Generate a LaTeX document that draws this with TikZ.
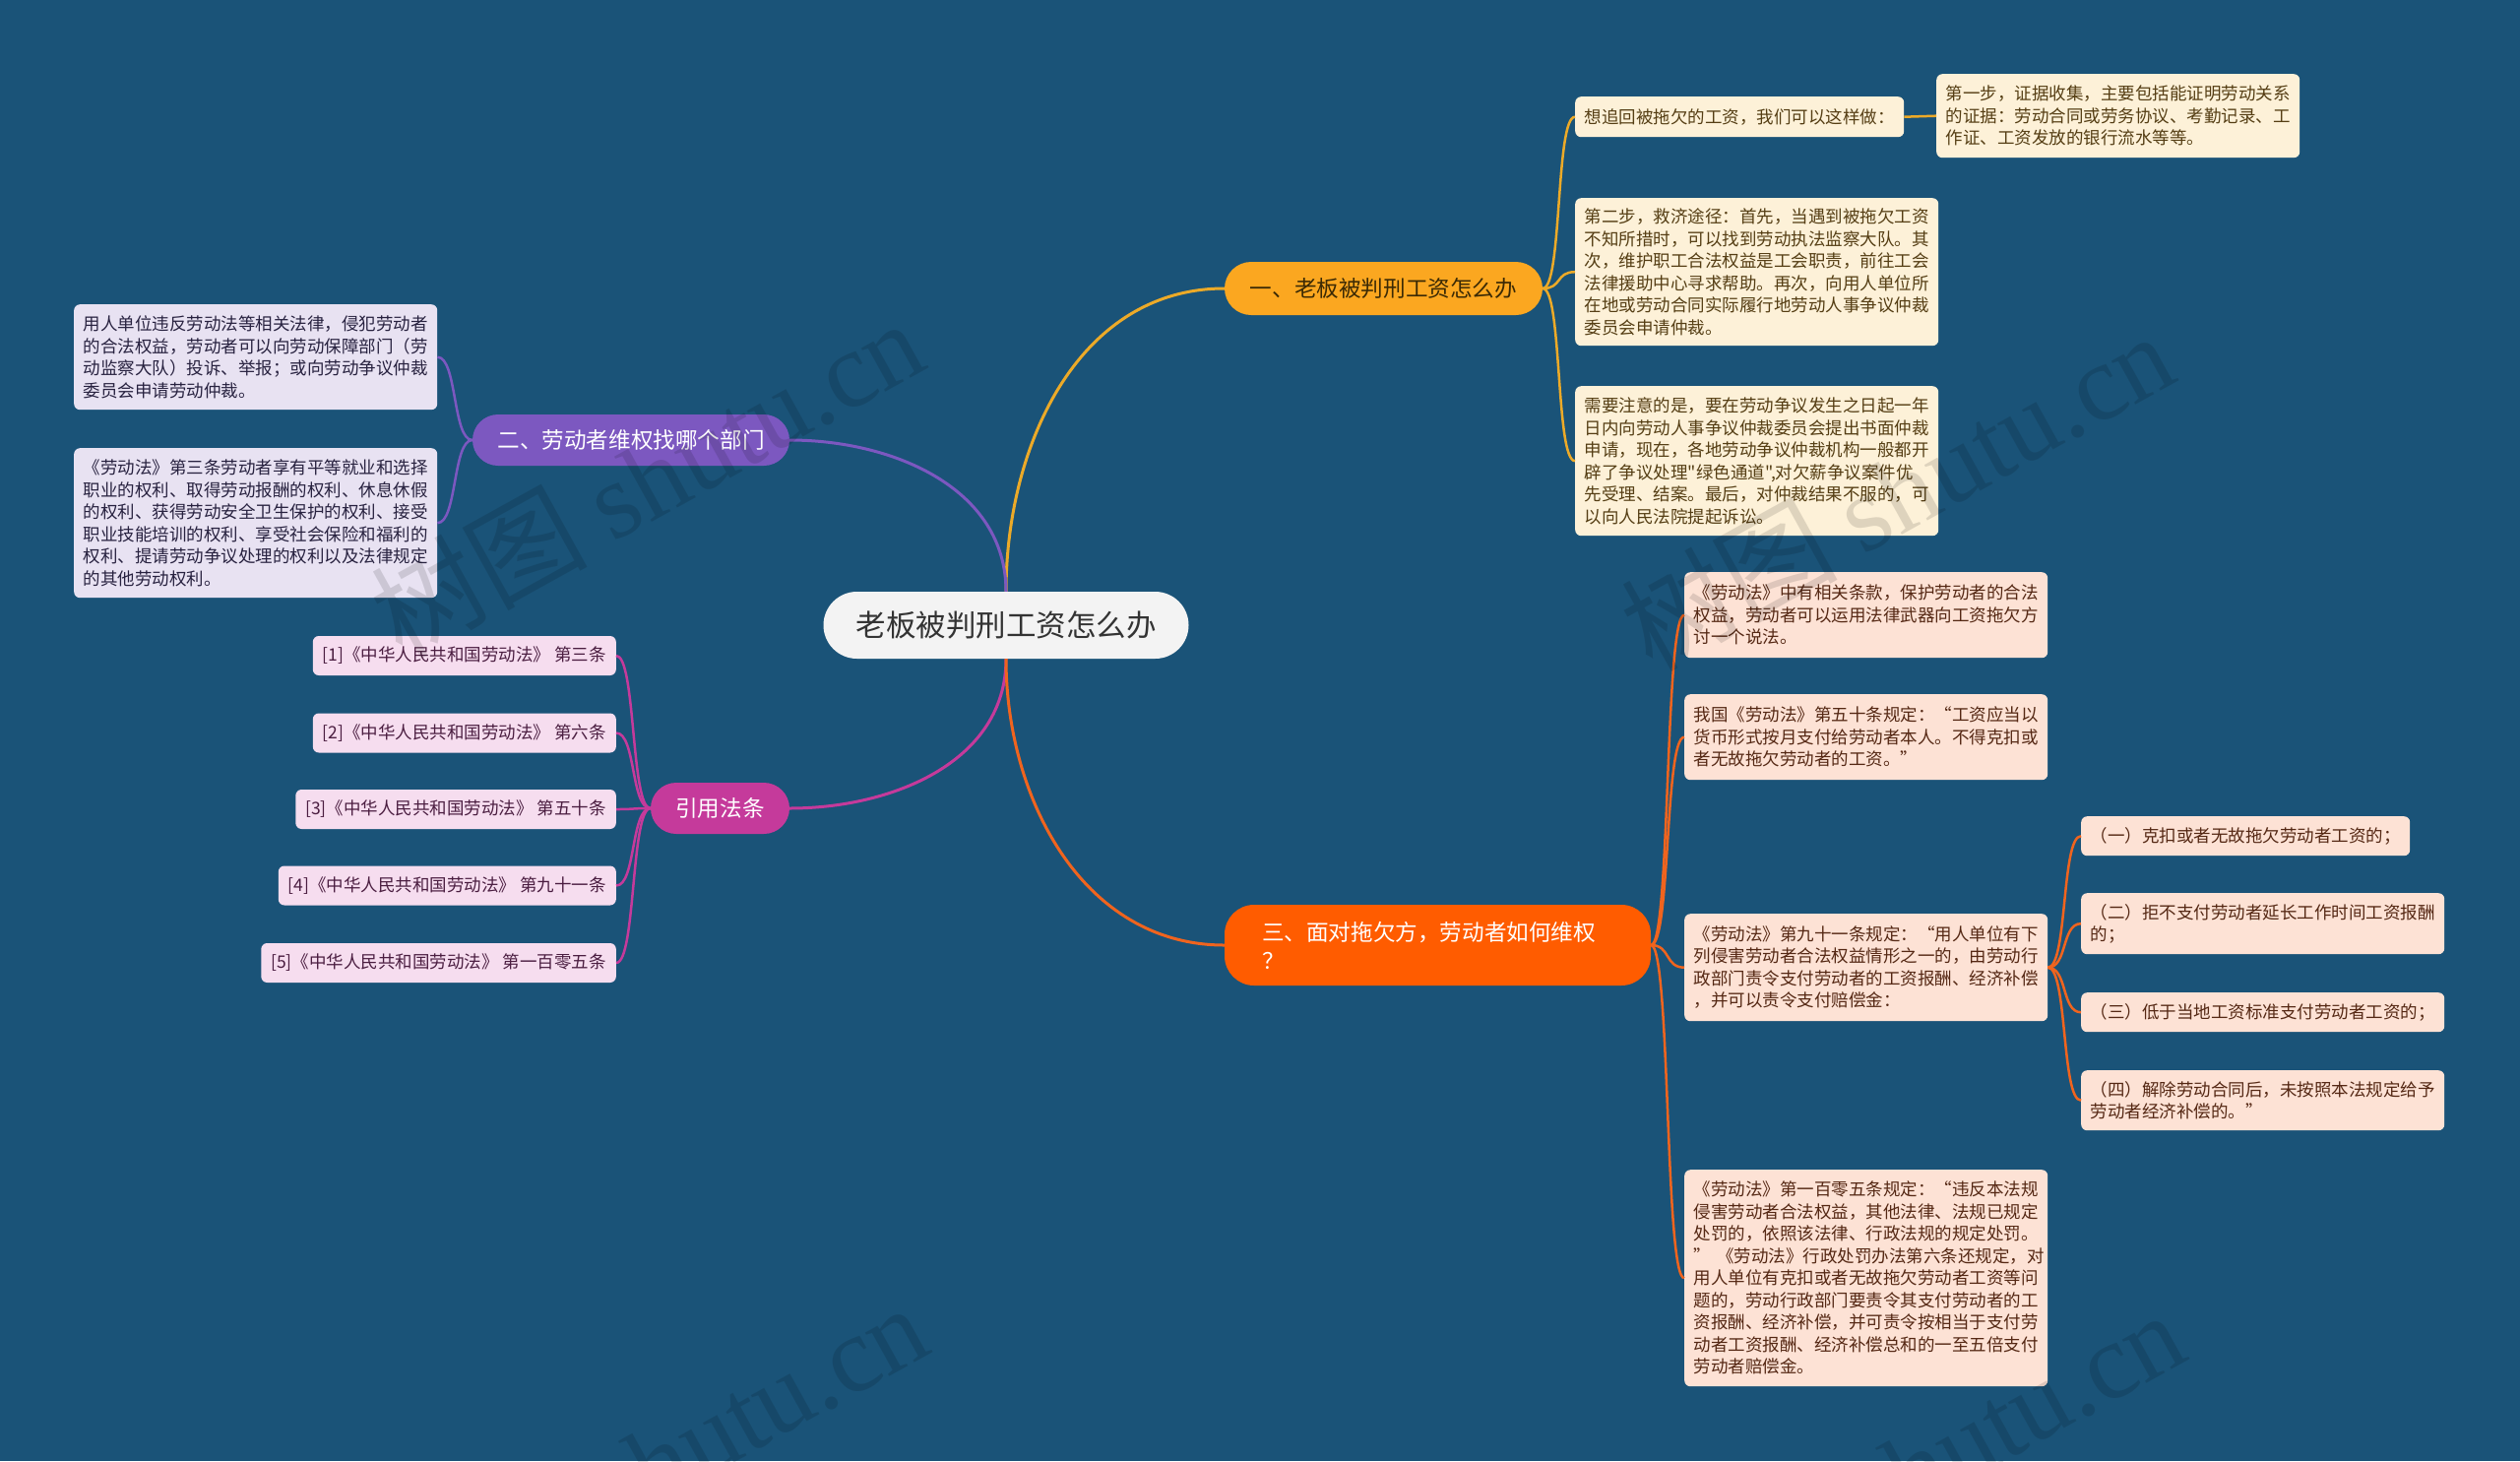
\documentclass[tikz,border=0pt]{standalone}
\usepackage{fontspec}
\setmainfont{Noto Sans CJK SC}
\newfontfamily\cjk{Noto Sans CJK SC}
\newfontfamily\wmlatin{Liberation Serif}
\definecolor{bg}{RGB}{26,83,120}
\definecolor{rootfill}{RGB}{243,243,243}
\definecolor{roottext}{RGB}{51,51,51}
\definecolor{bone}{RGB}{251,167,32}
\definecolor{bonetext}{RGB}{59,42,5}
\definecolor{boneline}{RGB}{236,170,40}
\definecolor{btwo}{RGB}{124,88,192}
\definecolor{bthree}{RGB}{197,58,155}
\definecolor{bfour}{RGB}{255,92,0}
\definecolor{bfourline}{RGB}{240,100,30}
\definecolor{lonefill}{RGB}{253,241,216}
\definecolor{lonetext}{RGB}{85,62,20}
\definecolor{ltwofill}{RGB}{232,226,242}
\definecolor{ltwotext}{RGB}{40,34,64}
\definecolor{lthreefill}{RGB}{246,221,239}
\definecolor{lthreetext}{RGB}{75,30,65}
\definecolor{lfourfill}{RGB}{253,226,213}
\definecolor{lfourtext}{RGB}{85,40,20}
\newcommand\leaffont{\cjk\fontsize{17.5}{22.5}\selectfont}
\newcommand\branchfont{\cjk\fontsize{22.6}{29}\selectfont}
\tikzset{
  rootn/.style={fill=rootfill, text=roottext, rounded corners=34pt, minimum width=371pt, minimum height=68pt, inner sep=0pt, font=\cjk\fontsize{30.5}{38}\selectfont},
  branchn/.style={rounded corners=26pt, minimum height=52pt, inner sep=0pt, font=\branchfont},
  leafn/.style={rounded corners=6pt, inner xsep=9.5pt, inner ysep=4pt, font=\leaffont, align=left, text width=350pt},
  lone/.style={leafn, fill=lonefill, text=lonetext, anchor=north west},
  ltwo/.style={leafn, fill=ltwofill, text=ltwotext, anchor=north west},
  lthree/.style={rounded corners=6pt, inner xsep=10pt, inner ysep=4pt, font=\leaffont, fill=lthreefill, text=lthreetext, anchor=east, minimum height=40pt},
  lfour/.style={leafn, fill=lfourfill, text=lfourtext, anchor=north west},
  cone/.style={draw=boneline, line width=3pt},
  ctwo/.style={draw=btwo, line width=3pt},
  cthree/.style={draw=bthree, line width=3pt},
  cfour/.style={draw=bfourline, line width=3pt},
  wm/.style={rotate=29, text=black, text opacity=0.12, font=\fontsize{110}{110}\selectfont, inner sep=0pt}
}
\begin{document}
\begin{tikzpicture}[x=1pt,y=-1pt]
\fill[bg] (0,0) rectangle (2560,1484);
\useasboundingbox (0,0) rectangle (2560,1484);

% root and branches
\node[rootn] (root) at (1022,635) {老板被判刑工资怎么办};
\node[branchn, fill=bone, text=bonetext, minimum width=323pt, minimum height=54pt, rounded corners=27pt] (b1) at (1405.5,293) {一、老板被判刑工资怎么办};
\node[branchn, fill=btwo, text=white, minimum width=322pt] (b2) at (641,447) {二、劳动者维权找哪个部门};
\node[branchn, fill=bthree, text=white, minimum width=141pt] (b3) at (731.5,821) {引用法条};
\node[branchn, fill=bfour, text=white, minimum width=433pt, minimum height=82pt, rounded corners=30pt, text width=357pt, align=left, inner xsep=38pt] (b4) at (1460.5,960) {三、面对拖欠方，劳动者如何维权\\？};

% branch 1 leaves
\node[lone, text width=315pt, minimum height=41pt] (l1a) at (1600,98) {想追回被拖欠的工资，我们可以这样做：};
\node[lone, minimum height=85pt] (l1ac) at (1967,75) {第一步，证据收集，主要包括能证明劳动关系\\的证据：劳动合同或劳务协议、考勤记录、工\\作证、工资发放的银行流水等等。};
\node[lone, minimum height=150pt] (l1b) at (1600,201) {第二步，救济途径：首先，当遇到被拖欠工资\\不知所措时，可以找到劳动执法监察大队。其\\次，维护职工合法权益是工会职责，前往工会\\法律援助中心寻求帮助。再次，向用人单位所\\在地或劳动合同实际履行地劳动人事争议仲裁\\委员会申请仲裁。};
\node[lone, minimum height=152pt] (l1c) at (1600,392) {需要注意的是，要在劳动争议发生之日起一年\\日内向劳动人事争议仲裁委员会提出书面仲裁\\申请，现在，各地劳动争议仲裁机构一般都开\\辟了争议处理"绿色通道",对欠薪争议案件优\\先受理、结案。最后，对仲裁结果不服的，可\\以向人民法院提起诉讼。};

% branch 2 leaves
\node[ltwo, minimum height=107pt] (l2a) at (75,309) {用人单位违反劳动法等相关法律，侵犯劳动者\\的合法权益，劳动者可以向劳动保障部门（劳\\动监察大队）投诉、举报；或向劳动争议仲裁\\委员会申请劳动仲裁。};
\node[ltwo, minimum height=152pt] (l2b) at (75,455) {《劳动法》第三条劳动者享有平等就业和选择\\职业的权利、取得劳动报酬的权利、休息休假\\的权利、获得劳动安全卫生保护的权利、接受\\职业技能培训的权利、享受社会保险和福利的\\权利、提请劳动争议处理的权利以及法律规定\\的其他劳动权利。};

% branch 3 leaves
\node[lthree] (cit1) at (626,666) {[1]《中华人民共和国劳动法》 第三条};
\node[lthree] (cit2) at (626,744.5) {[2]《中华人民共和国劳动法》 第六条};
\node[lthree] (cit3) at (626,822) {[3]《中华人民共和国劳动法》 第五十条};
\node[lthree] (cit4) at (626,899.5) {[4]《中华人民共和国劳动法》 第九十一条};
\node[lthree] (cit5) at (626,978) {[5]《中华人民共和国劳动法》 第一百零五条};

% branch 4 leaves
\node[lfour, minimum height=87pt] (l4a) at (1711,581) {《劳动法》中有相关条款，保护劳动者的合法\\权益，劳动者可以运用法律武器向工资拖欠方\\讨一个说法。};
\node[lfour, minimum height=87pt] (l4b) at (1711,705) {我国《劳动法》第五十条规定：“工资应当以\\货币形式按月支付给劳动者本人。不得克扣或\\者无故拖欠劳动者的工资。”};
\node[lfour, minimum height=109pt] (l4c) at (1711,928) {《劳动法》第九十一条规定：“用人单位有下\\列侵害劳动者合法权益情形之一的，由劳动行\\政部门责令支付劳动者的工资报酬、经济补偿\\，并可以责令支付赔偿金：};
\node[lfour, minimum height=220pt] (l4d) at (1711,1188) {《劳动法》第一百零五条规定：“违反本法规\\侵害劳动者合法权益，其他法律、法规已规定\\处罚的，依照该法律、行政法规的规定处罚。\\” 《劳动法》行政处罚办法第六条还规定，对\\用人单位有克扣或者无故拖欠劳动者工资等问\\题的，劳动行政部门要责令其支付劳动者的工\\资报酬、经济补偿，并可责令按相当于支付劳\\动者工资报酬、经济补偿总和的一至五倍支付\\劳动者赔偿金。};
\node[lfour, text width=315pt, minimum height=40pt] (c1) at (2114,829) {（一）克扣或者无故拖欠劳动者工资的；};
\node[lfour, minimum height=62pt] (c2) at (2114,907) {（二）拒不支付劳动者延长工作时间工资报酬\\的；};
\node[lfour, minimum height=40pt] (c3) at (2114,1008) {（三）低于当地工资标准支付劳动者工资的；};
\node[lfour, minimum height=61pt] (c4) at (2114,1087) {（四）解除劳动合同后，未按照本法规定给予\\劳动者经济补偿的。”};

% connectors from root
\draw[cone] (root.north) to[out=90,in=180] (b1.west);
\draw[ctwo] (root.north) to[out=90,in=0] (b2.east);
\draw[cthree] (root.south) to[out=-90,in=0] (b3.east);
\draw[cfour] (root.south) to[out=-90,in=180] (b4.west);

% branch 1 connectors
\draw[cone, line width=2.5pt] (b1.east) .. controls +(20,0) and +(-20,0) .. (l1a.west);
\draw[cone, line width=2.5pt] (b1.east) .. controls +(20,0) and +(-20,0) .. (l1b.west);
\draw[cone, line width=2.5pt] (b1.east) .. controls +(20,0) and +(-20,0) .. (l1c.west);
\draw[cone, line width=2.5pt] (l1a.east) -- (l1ac.west);

% branch 2 connectors
\draw[ctwo, line width=2.5pt] (b2.west) .. controls +(-20,0) and +(20,0) .. (l2a.east);
\draw[ctwo, line width=2.5pt] (b2.west) .. controls +(-20,0) and +(20,0) .. (l2b.east);

% branch 3 connectors
\foreach \c in {cit1,cit2,cit3,cit4,cit5}
  \draw[cthree, line width=2.5pt] (b3.west) .. controls +(-20,0) and +(20,0) .. (\c.east);

% branch 4 connectors
\foreach \c in {l4a,l4b,l4c,l4d}
  \draw[cfour, line width=2.5pt] (b4.east) .. controls +(20,0) and +(-20,0) .. (\c.west);
\foreach \c in {c1,c2,c3,c4}
  \draw[cfour, line width=2.5pt] (l4c.east) .. controls +(20,0) and +(-20,0) .. (\c.west);

% watermarks
\node[wm] (wm1) at (657,485) {\cjk 树图 {\wmlatin shutu.cn}};
\node[wm] (wm2) at (1927,498) {\cjk 树图 {\wmlatin shutu.cn}};
\node[wm] (wm3) at (661,1485) {\cjk 树图 {\wmlatin shutu.cn}};
\node[wm] (wm4) at (1938,1492) {\cjk 树图 {\wmlatin shutu.cn}};
\end{tikzpicture}
\end{document}
